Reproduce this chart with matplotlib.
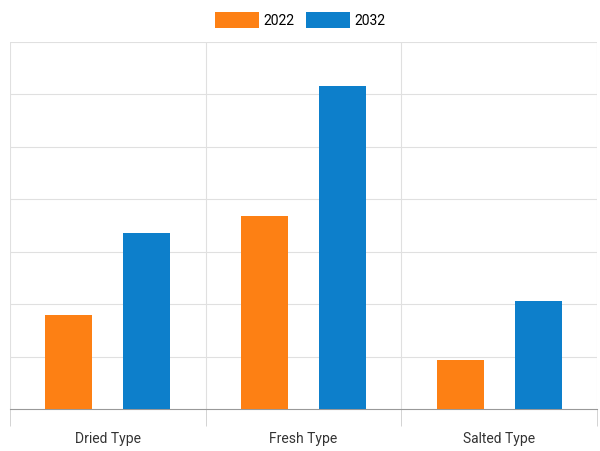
import matplotlib
matplotlib.use("Agg")
import matplotlib.pyplot as plt
import numpy as np

categories = ["Dried Type", "Fresh Type", "Salted Type"]
series_names = ["2022", "2032"]
v2022 = [1.79, 3.68, 0.94]
v2032 = [3.36, 6.16, 2.06]
colors = ["#fd8014", "#0d7fcb"]

plt.rcParams['font.family'] = ['Roboto', 'DejaVu Sans']
fig = plt.figure(figsize=(6, 4.52), dpi=100)
ax = fig.add_axes([10/600, 42/452, 587/600, 367/452])
x = np.arange(len(categories))
w = 0.24
ax.bar(x - 0.2, v2022, w, color=colors[0], label=series_names[0], zorder=3)
ax.bar(x + 0.2, v2032, w, color=colors[1], label=series_names[1], zorder=3)
ax.set_xlim(-0.5, 2.5)
ax.set_ylim(0, 7)
ax.set_yticks(np.arange(0, 8))
ax.set_yticklabels([])
ax.tick_params(axis='y', length=0)
for yy in range(1, 8):
    ax.axhline(yy, color="#e0e0e0", lw=0.8, zorder=1)
for xx in [-0.5, 0.5, 1.5, 2.5]:
    ax.axvline(xx, color="#e0e0e0", lw=0.8, zorder=1)
ax.set_xticks(x)
ax.set_xticklabels(categories, fontsize=10, color="#333333")
ax.set_xticks([-0.5, 0.5, 1.5, 2.5], minor=True)
ax.tick_params(axis='x', which='major', length=0, pad=16)
ax.tick_params(axis='x', which='minor', length=12, color="#cccccc")
for s in ["top", "right", "left"]:
    ax.spines[s].set_visible(False)
ax.spines["bottom"].set_color("#999999")
fig.legend(loc="upper center", bbox_to_anchor=(0.5, 1.0), ncol=2, frameon=False,
           handlelength=3.2, handleheight=1.4, fontsize=10, columnspacing=0.8,
           handletextpad=0.3)
fig.savefig("out.png", dpi=100)
